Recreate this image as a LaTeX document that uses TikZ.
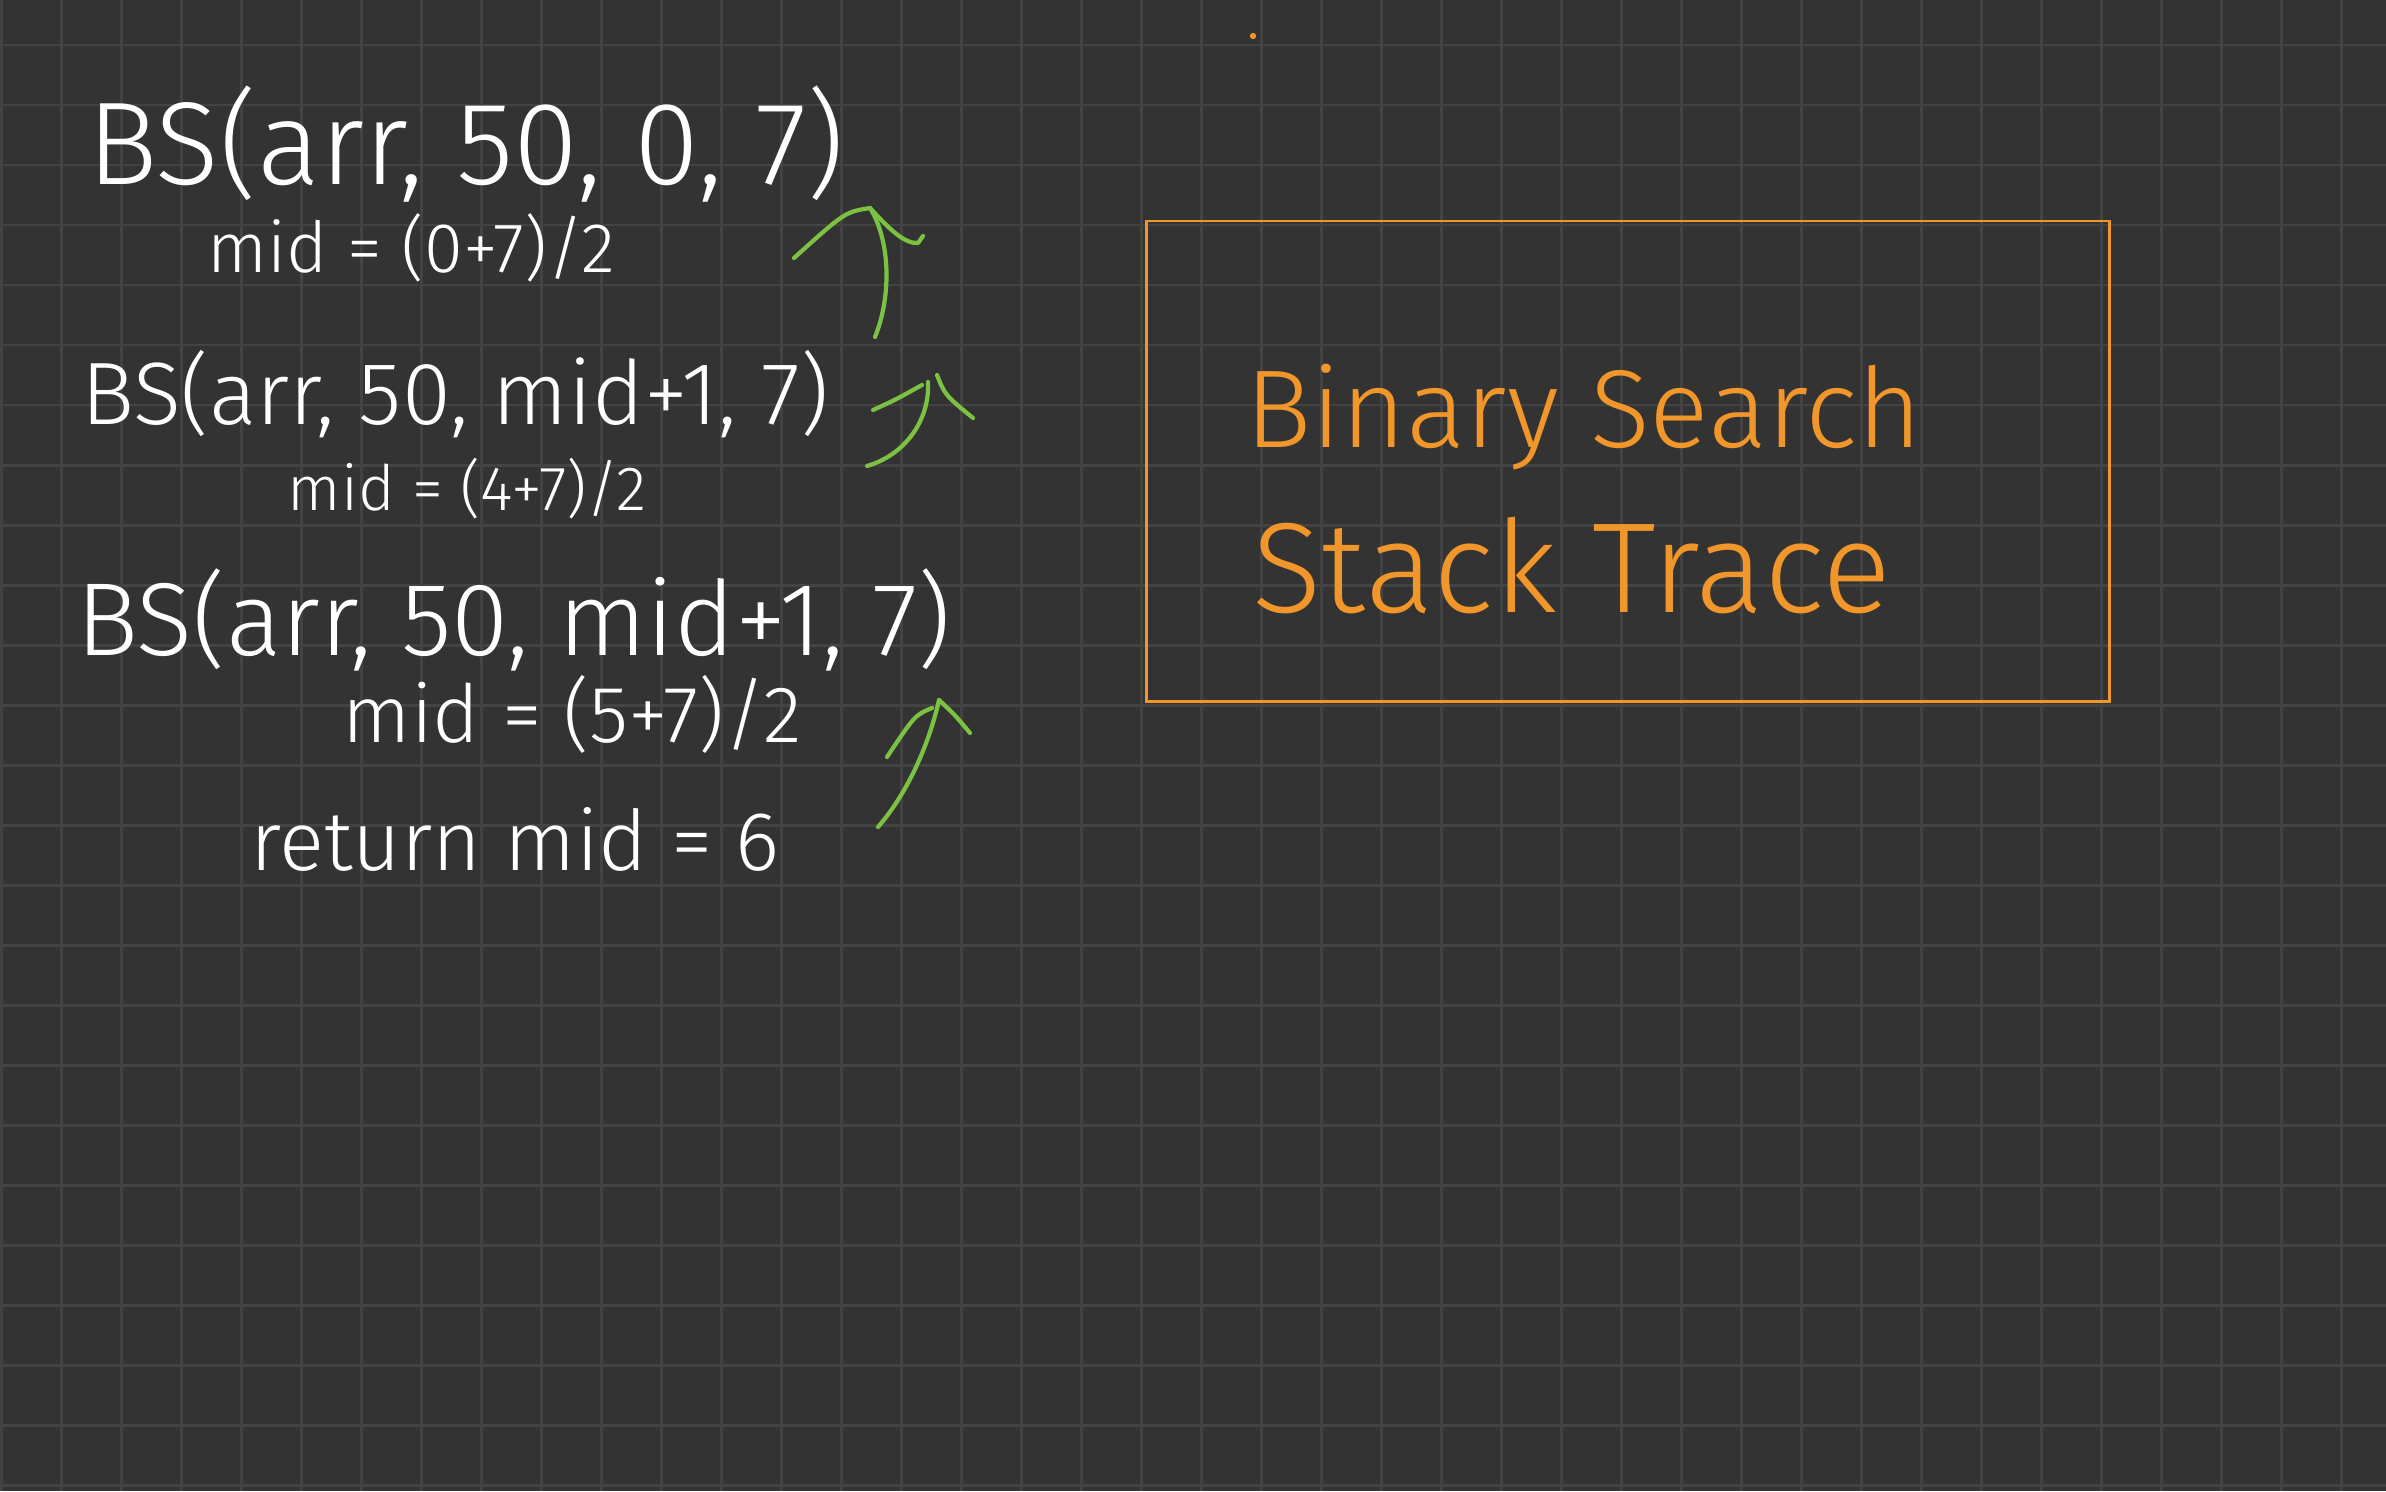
\documentclass[tikz,border=0pt]{standalone}
\usepackage{fontspec}
\setmainfont{Fira Sans}[UprightFont={* Light}]
\definecolor{bg}{HTML}{333333}
\definecolor{gridc}{HTML}{434343}
\definecolor{orng}{HTML}{F0962A}
\definecolor{grn}{HTML}{7CC242}
\begin{document}
\begin{tikzpicture}[x=0.01cm,y=-0.01cm,
  hw/.style={text=white, inner sep=0pt, anchor=base west},
  ttl/.style={text=orng, inner sep=0pt, anchor=base west},
  arr/.style={draw=grn, line width=1.2pt, line cap=round, line join=round},
  gridline/.style={draw=gridc, line width=0.85pt},
  frame/.style={draw=orng, line width=0.85pt}]
\fill[bg] (0,0) rectangle (2386,1491);
\useasboundingbox (0,0) rectangle (2386,1491);
\foreach \i in {0,...,39} \draw[gridline] ({1.7+60*\i},0) -- ({1.7+60*\i},1491);
\foreach \j in {0,...,24} \draw[gridline] (0,{45+60*\j}) -- (2386,{45+60*\j});

% stack trace lines
\node[hw,font=\fontsize{33.5}{40}\selectfont] (l1) at (87,184) {BS(arr, 50, 0, 7)};
\node[hw,font=\fontsize{20}{24}\selectfont] (l2) at (207,272) {mid = (0+7)/2};
\node[hw,font=\fontsize{25.2}{30}\selectfont] (l3) at (81,424) {BS(arr, 50, mid+1, 7)};
\node[hw,font=\fontsize{17.8}{21}\selectfont] (l4) at (287,510) {mid = (4+7)/2};
\node[hw,font=\fontsize{29.5}{35}\selectfont] (l5) at (76,655) {BS(arr, 50, mid+1, 7)};
\node[hw,font=\fontsize{22.8}{27}\selectfont] (l6) at (342,742) {mid = (5+7)/2};
\node[hw,font=\fontsize{23.8}{28}\selectfont] (l7) at (250,870) {return mid = 6};

% title box
\coordinate (boxnw) at (1146,221);
\coordinate (boxse) at (2109,701);
\draw[frame] (boxnw) rectangle (boxse);
\node[ttl,font=\fontsize{31.5}{38}\selectfont] (t1) at (1245,447) {Binary Search};
\node[ttl,font=\fontsize{36.5}{42}\selectfont] (t2) at (1252,612) {Stack Trace};
\coordinate (dot) at (1253,36);
\fill[orng] (dot) circle (0.9pt);

% arrow 1
\coordinate (a1s) at (875,337);
\coordinate (a1t) at (870,208);
\coordinate (a1l) at (794,258);
\coordinate (a1r) at (918,243);
\coordinate (a1h) at (923,236);
\draw[arr] (a1s) .. controls (892,295) and (890,240) .. (a1t);
\draw[arr] (a1t) .. controls (845,212) .. (a1l);
\draw[arr] (a1t) .. controls (890,230) and (905,244) .. (a1r) -- (a1h);

% arrow 2
\coordinate (a2s) at (867,466);
\coordinate (a2t) at (928,382);
\coordinate (a2l) at (873,410);
\coordinate (a2lt) at (922,385);
\coordinate (a2r) at (937,375);
\coordinate (a2re) at (973,418);
\draw[arr] (a2s) .. controls (905,455) and (930,420) .. (a2t);
\draw[arr] (a2l) .. controls (895,400) .. (a2lt);
\draw[arr] (a2r) .. controls (945,395) .. (a2re);

% arrow 3
\coordinate (a3s) at (878,827);
\coordinate (a3t) at (939,700);
\coordinate (a3l) at (887,757);
\coordinate (a3lt) at (932,708);
\coordinate (a3r) at (970,733);
\draw[arr] (a3s) .. controls (910,790) and (930,740) .. (a3t);
\draw[arr] (a3lt) .. controls (915,715) .. (a3l);
\draw[arr] (a3t) .. controls (955,715) .. (a3r);
\end{tikzpicture}
\end{document}
